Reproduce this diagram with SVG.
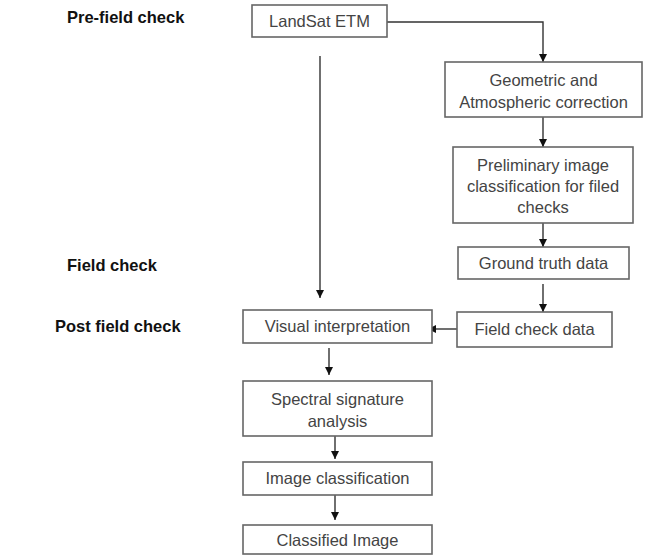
<svg xmlns="http://www.w3.org/2000/svg" width="645" height="556" viewBox="0 0 645 556">
<style>
.box{fill:#fff;stroke:#666;stroke-width:1.6}
.t{font-family:"Liberation Sans",Arial,sans-serif;font-size:16.5px;fill:#444;text-anchor:middle}
.lbl{font-family:"Liberation Sans",Arial,sans-serif;font-size:16.5px;font-weight:bold;fill:#111}
.c{fill:none;stroke:#333;stroke-width:1.4}
</style>
<defs>
<marker id="ah" viewBox="0 0 10 10" refX="10" refY="5" markerWidth="8" markerHeight="8" markerUnits="userSpaceOnUse" orient="auto">
<path d="M0,0 L10,5 L0,10 Z" fill="#111"/>
</marker>
</defs>
<rect width="645" height="556" fill="#fff"/>
<g id="labels">
<text class="lbl" x="67" y="23">Pre-field check</text>
<text class="lbl" x="67" y="271">Field check</text>
<text class="lbl" x="55" y="332">Post field check</text>
</g>
<g id="connectors">
<path class="c" d="M387,22 H543 V62" marker-end="url(#ah)"/>
<path class="c" d="M320,56 V298" marker-end="url(#ah)"/>
<path class="c" d="M543,117 V147" marker-end="url(#ah)"/>
<path class="c" d="M543,223 V247" marker-end="url(#ah)"/>
<path class="c" d="M543,284 V312" marker-end="url(#ah)"/>
<path class="c" d="M457,329 H428" marker-end="url(#ah)"/>
<path class="c" d="M329,348 V375" marker-end="url(#ah)"/>
<path class="c" d="M335,436 V459" marker-end="url(#ah)"/>
<path class="c" d="M335,495 V520" marker-end="url(#ah)"/>
</g>
<g id="landsat"><rect class="box" x="252" y="5" width="135" height="32"/><text class="t" x="319.5" y="27">LandSat ETM</text></g>
<g id="geometric"><rect class="box" x="445" y="62" width="197" height="55"/><text class="t" x="543.5" y="86">Geometric and</text><text class="t" x="543.5" y="108">Atmospheric correction</text></g>
<g id="preliminary"><rect class="box" x="453" y="147" width="180" height="76"/><text class="t" x="543" y="171">Preliminary image</text><text class="t" x="543" y="192">classification for filed</text><text class="t" x="543" y="213">checks</text></g>
<g id="ground"><rect class="box" x="458" y="247" width="171" height="32"/><text class="t" x="543.5" y="269">Ground truth data</text></g>
<g id="fieldcheck"><rect class="box" x="457" y="312" width="155" height="35"/><text class="t" x="534.5" y="335">Field check data</text></g>
<g id="visual"><rect class="box" x="243" y="310" width="189" height="33"/><text class="t" x="337.5" y="332">Visual interpretation</text></g>
<g id="spectral"><rect class="box" x="243" y="381" width="189" height="55"/><text class="t" x="337.5" y="405">Spectral signature</text><text class="t" x="337.5" y="427">analysis</text></g>
<g id="imgclass"><rect class="box" x="243" y="462" width="189" height="33"/><text class="t" x="337.5" y="484">Image classification</text></g>
<g id="classified"><rect class="box" x="243" y="525" width="189" height="29"/><text class="t" x="337.5" y="546">Classified Image</text></g>
</svg>
